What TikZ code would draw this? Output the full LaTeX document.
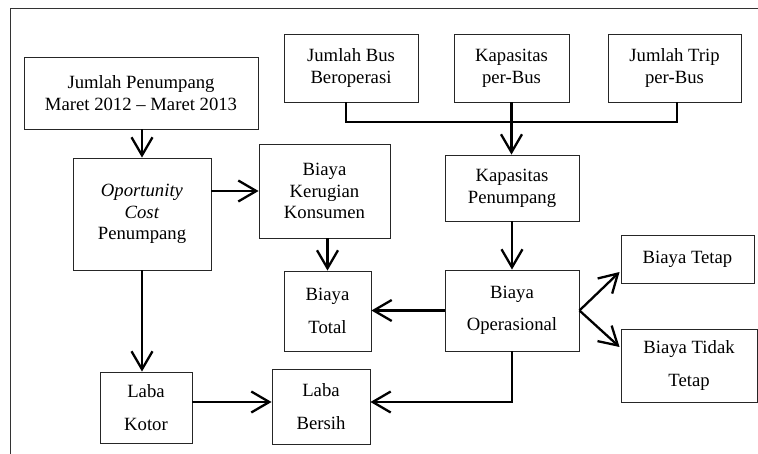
\documentclass[tikz,border=0pt]{standalone}
\usepackage{fontspec}
\setmainfont{Liberation Serif}
\usetikzlibrary{arrows.meta}
\begin{document}
\begin{tikzpicture}[x=1pt,y=-1pt,
  box/.style={draw=black!85,line width=0.9pt,inner sep=0pt,align=center,
    font=\fontsize{18.7}{21.7}\selectfont},
  widebox/.style={font=\fontsize{18.7}{32.5}\selectfont},
  conn/.style={line width=2.3pt},
  arr/.style={conn,-{Straight Barb[length=18pt,width=21pt]}},
  frame/.style={line width=1pt,draw=black!80}]
\useasboundingbox (0,0) rectangle (758,454);
\draw[frame] (758,8.5) -- (10.5,8.5) -- (10.5,454);

\node[box,minimum width=234pt,minimum height=72pt] (jp) at (141,93) {Jumlah Penumpang\\Maret 2012 -- Maret 2013};
\node[box,minimum width=134pt,minimum height=68pt] (jb) at (351,68) {Jumlah Bus\\Beroperasi};
\node[box,minimum width=115pt,minimum height=68pt] (kb) at (511.5,68) {Kapasitas\\per-Bus};
\node[box,minimum width=133pt,minimum height=68pt] (jt) at (674.5,68) {Jumlah Trip\\per-Bus};
\node[box,minimum width=134pt,minimum height=66pt] (kp) at (512,188) {Kapasitas\\Penumpang};
\node[box,minimum width=138pt,minimum height=112pt] (oc) at (142,214) {\textit{Oportunity}\\\textit{Cost}\\Penumpang};
\node[box,minimum width=131pt,minimum height=94pt] (bk) at (324.5,191) {Biaya\\Kerugian\\Konsumen};
\node[box,widebox,minimum width=87pt,minimum height=80pt] (bt) at (327.5,311) {Biaya\\Total};
\node[box,widebox,minimum width=134pt,minimum height=81pt] (bo) at (512,310.5) {Biaya\\Operasional};
\node[box,minimum width=133pt,minimum height=48pt] (tetap) at (687.5,259) {Biaya Tetap};
\node[box,widebox,minimum width=136pt,minimum height=73pt] (tt) at (689,365.5) {Biaya Tidak\\Tetap};
\node[box,widebox,minimum width=92pt,minimum height=71pt] (lk) at (146,407.5) {Laba\\Kotor};
\node[box,widebox,minimum width=98pt,minimum height=75pt] (lb) at (321,406.5) {Laba\\Bersih};

\coordinate (bar) at (0,122);
\draw[conn] ([xshift=-5pt]jb.south) -- ([xshift=-5pt]jb.south |- bar) -- ([xshift=2.5pt]jt.south |- bar) -- ([xshift=2.5pt]jt.south);
\draw[arr] (kb.south) -- (kb.south |- kp.north);
\draw[arr] (kp.south) -- (kp.south |- bo.north);
\draw[arr] (oc.north |- jp.south) -- (oc.north);
\draw[arr] (oc.east |- bk.west) -- (bk.west);
\draw[arr] (bt.north |- bk.south) -- (bt.north);
\draw[arr] (bo.west) -- (bt.east |- bo.west);
\draw[arr] (bo.east) -- ([yshift=-13pt,xshift=-1pt]tetap.west);
\draw[arr] (bo.east) -- ([yshift=18.5pt,xshift=-1pt]tt.west);
\draw[arr] (bo.south) |- ([yshift=4.5pt]lb.east);
\draw[arr] (oc.south) -- (oc.south |- lk.north);
\draw[arr] ([yshift=5.5pt]lk.east) -- ([yshift=5.5pt]lk.east -| lb.west);
\end{tikzpicture}
\end{document}
